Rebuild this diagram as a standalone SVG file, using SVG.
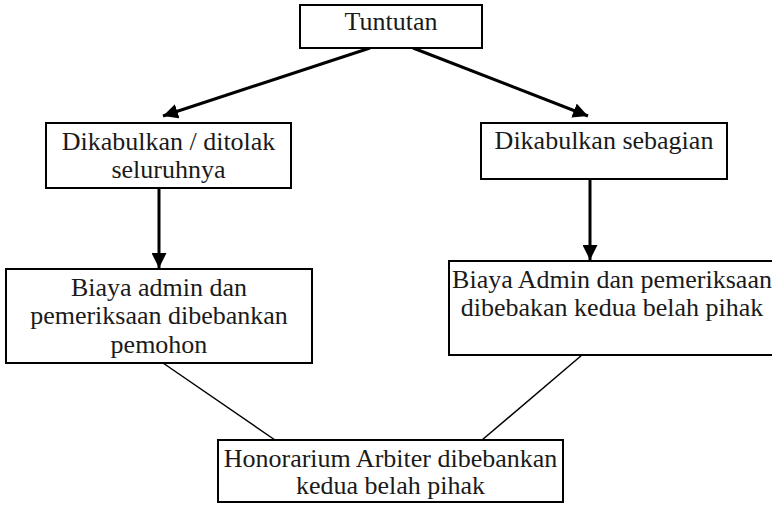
<svg xmlns="http://www.w3.org/2000/svg" width="772" height="506" viewBox="0 0 772 506">
  <defs>
    <marker id="arrow" viewBox="0 0 10 10" refX="10" refY="5" markerWidth="5" markerHeight="5" markerUnits="strokeWidth" orient="auto">
      <path d="M0,0 L10,5 L0,10 Z" fill="#000"/>
    </marker>
    <style>
      .box { fill: #fff; stroke: #000; stroke-width: 2; }
      .label { font-family: "Liberation Serif", "Times New Roman", serif; font-size: 26px; fill: #1a1a1a; text-anchor: middle; }
      .arrow { stroke: #000; stroke-width: 3; fill: none; marker-end: url(#arrow); }
      .link { stroke: #000; stroke-width: 1.5; fill: none; }
    </style>
  </defs>
  <rect width="772" height="506" fill="#fff"/>

  <g id="connectors">
    <line class="arrow" x1="370" y1="48" x2="163" y2="116"/>
    <line class="arrow" x1="413" y1="48" x2="588" y2="116"/>
    <line class="arrow" x1="159" y1="188" x2="159" y2="268"/>
    <line class="arrow" x1="590" y1="179" x2="590" y2="260"/>
    <line class="link" x1="163" y1="363" x2="275" y2="440"/>
    <line class="link" x1="582" y1="355" x2="482" y2="440"/>
  </g>

  <g id="tuntutan">
    <rect class="box" x="300" y="5" width="182" height="43"/>
    <text class="label" x="391" y="30">Tuntutan</text>
  </g>

  <g id="dikabulkan-ditolak">
    <rect class="box" x="46" y="123" width="245" height="65"/>
    <text class="label" x="168.5" y="150">Dikabulkan / ditolak</text>
    <text class="label" x="168.5" y="178">seluruhnya</text>
  </g>

  <g id="dikabulkan-sebagian">
    <rect class="box" x="481" y="123" width="246" height="56"/>
    <text class="label" x="604" y="149">Dikabulkan sebagian</text>
  </g>

  <g id="biaya-pemohon">
    <rect class="box" x="6" y="269" width="306" height="94"/>
    <text class="label" x="159" y="296">Biaya admin dan</text>
    <text class="label" x="159" y="324">pemeriksaan dibebankan</text>
    <text class="label" x="159" y="353">pemohon</text>
  </g>

  <g id="biaya-kedua-pihak">
    <rect class="box" x="449" y="261" width="326" height="94"/>
    <text class="label" x="612" y="288">Biaya Admin dan pemeriksaan</text>
    <text class="label" x="612" y="316">dibebakan kedua belah pihak</text>
  </g>

  <g id="honorarium">
    <rect class="box" x="218" y="440" width="345" height="62"/>
    <text class="label" x="390.5" y="467">Honorarium Arbiter dibebankan</text>
    <text class="label" x="390.5" y="494">kedua belah pihak</text>
  </g>
</svg>
